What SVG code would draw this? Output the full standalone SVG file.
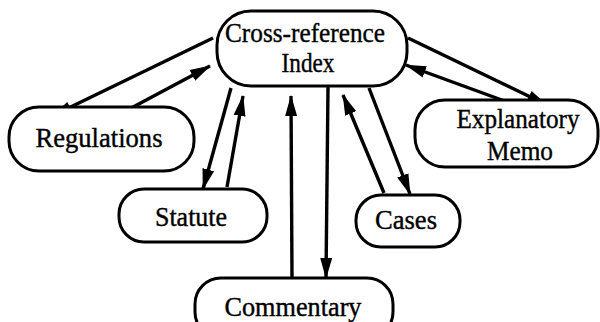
<svg xmlns="http://www.w3.org/2000/svg" width="600" height="322" viewBox="0 0 600 322">
<defs>
<marker id="ah" markerUnits="userSpaceOnUse" markerWidth="22" markerHeight="14" refX="20" refY="7" orient="auto">
<path d="M0,1 L21,7 L0,13 z" fill="#000"/>
</marker>
<style>
.node rect{fill:#fff;stroke:#000;stroke-width:3}
.node text{font-family:"Liberation Serif","Times New Roman",serif;font-size:28px;fill:#000;stroke:#000;stroke-width:0.4;text-anchor:middle}
#edges line{stroke:#000;stroke-width:3.4;marker-end:url(#ah)}
</style>
</defs>
<rect width="600" height="322" fill="#fff"/>
<g id="edges">
<line x1="213" y1="38" x2="52" y2="116"/>
<line x1="105" y1="122" x2="210" y2="66"/>
<line x1="231" y1="88" x2="203" y2="189"/>
<line x1="227" y1="187" x2="243" y2="96"/>
<line x1="292" y1="278" x2="291" y2="96"/>
<line x1="328" y1="87" x2="326" y2="278"/>
<line x1="384" y1="193" x2="343" y2="95"/>
<line x1="369" y1="88" x2="410" y2="194"/>
<line x1="408" y1="38" x2="547" y2="105"/>
<line x1="510" y1="103" x2="406" y2="65"/>
</g>
<g id="index" class="node">
<rect x="217" y="11" width="190" height="75" rx="34"/>
<text x="305" y="42" textLength="160" lengthAdjust="spacingAndGlyphs">Cross-reference</text>
<text x="308" y="72" textLength="53" lengthAdjust="spacingAndGlyphs">Index</text>
</g>
<g id="regulations" class="node">
<rect x="9" y="107" width="185" height="64" rx="30"/>
<text x="99" y="147" textLength="127" lengthAdjust="spacingAndGlyphs">Regulations</text>
</g>
<g id="statute" class="node">
<rect x="119" y="189" width="148" height="53" rx="25"/>
<text x="191" y="226" textLength="72" lengthAdjust="spacingAndGlyphs">Statute</text>
</g>
<g id="commentary" class="node">
<rect x="195" y="278" width="198" height="60" rx="26"/>
<text x="293" y="316" textLength="137" lengthAdjust="spacingAndGlyphs">Commentary</text>
</g>
<g id="cases" class="node">
<rect x="356" y="195" width="104" height="52" rx="25"/>
<text x="406" y="229" textLength="62" lengthAdjust="spacingAndGlyphs">Cases</text>
</g>
<g id="explanatory" class="node">
<rect x="415" y="100" width="183" height="67" rx="30"/>
<text x="518" y="128" textLength="123" lengthAdjust="spacingAndGlyphs">Explanatory</text>
<text x="520" y="160" textLength="66" lengthAdjust="spacingAndGlyphs">Memo</text>
</g>
</svg>
